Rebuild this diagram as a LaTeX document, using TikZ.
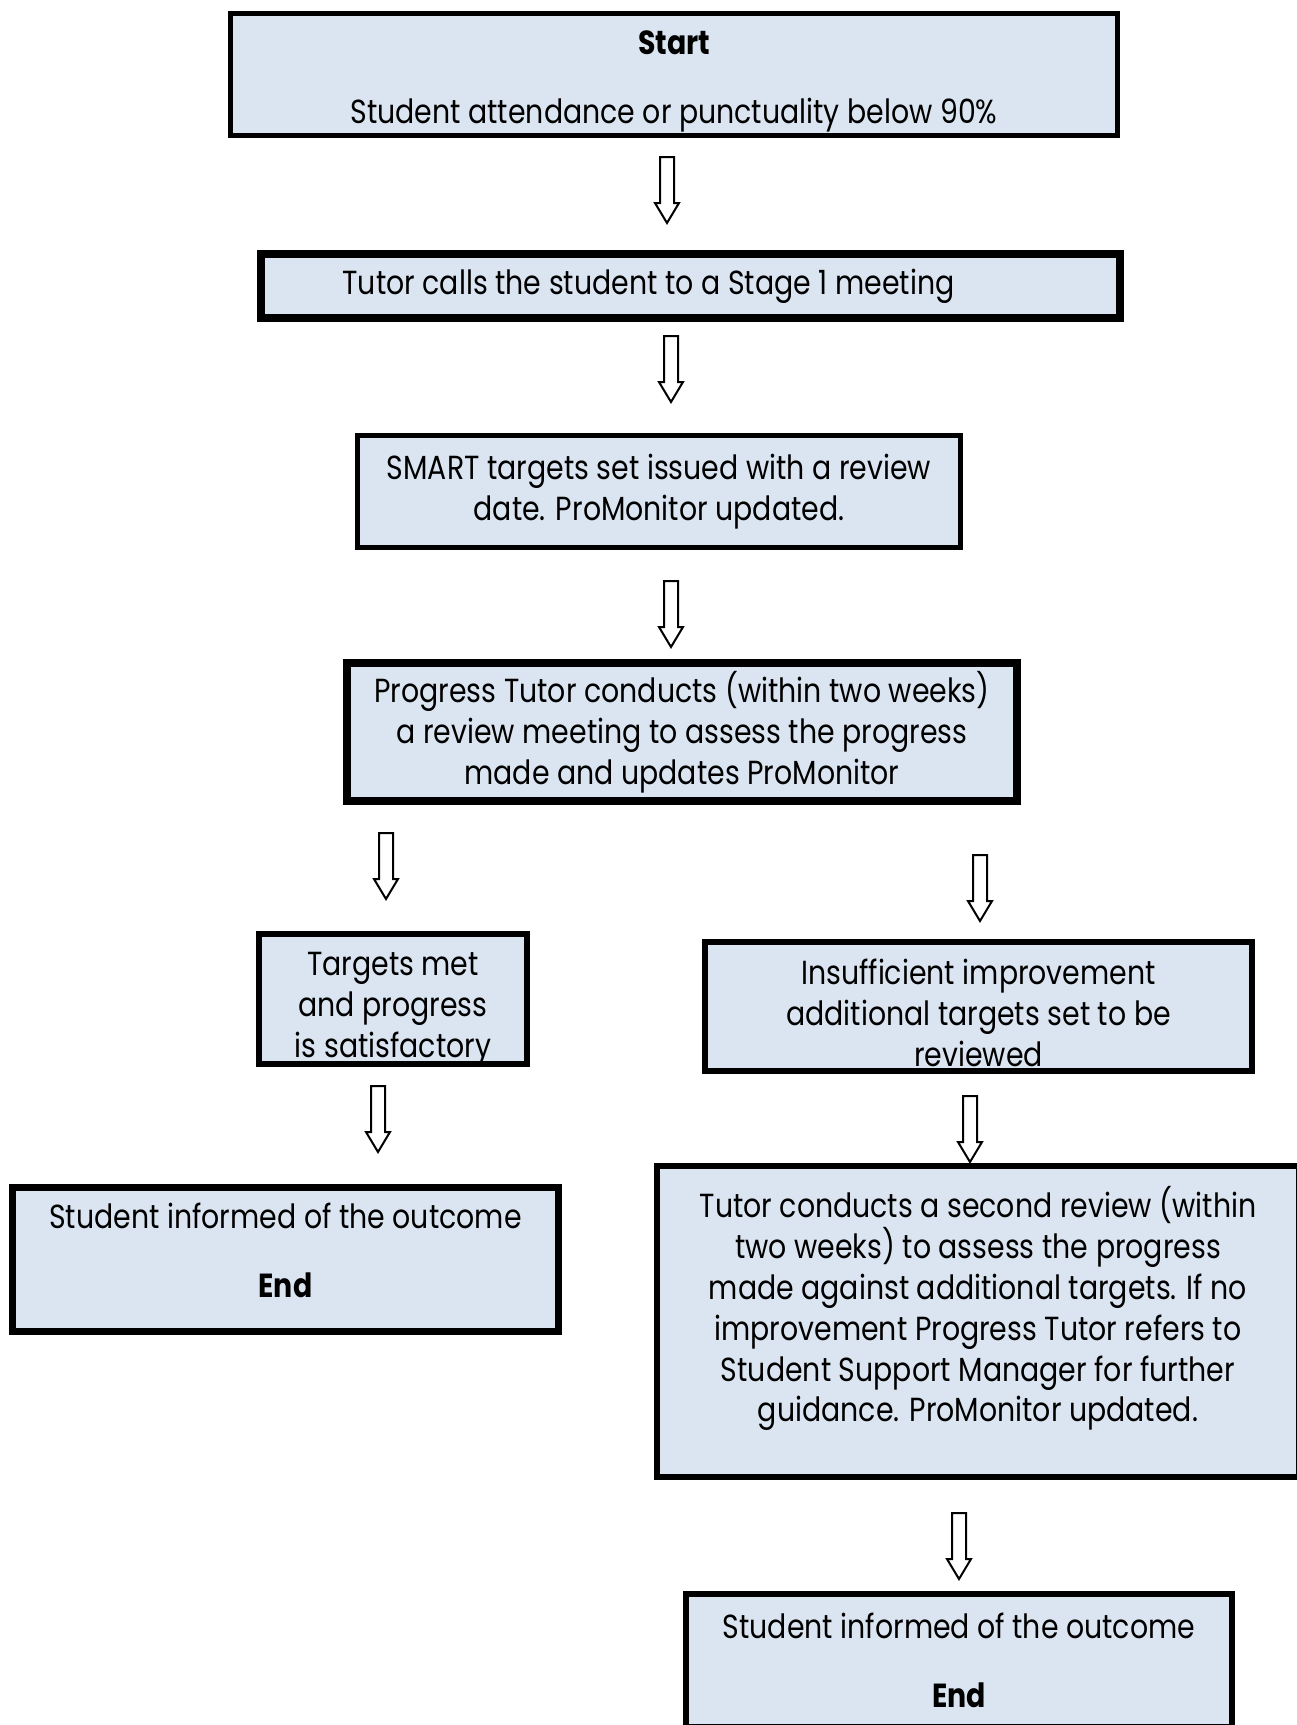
\documentclass[tikz,border=0pt]{standalone}
\usepackage{fontspec}
\setmainfont{Poppins}[FakeStretch=0.85]
\usetikzlibrary{calc}

\definecolor{boxfill}{HTML}{DBE5F1}

\tikzset{
  box/.style={draw=black, fill=boxfill, rectangle, inner sep=0pt},
  txt/.style={align=center, inner sep=0pt, font=\fontsize{19}{23.3}\selectfont},
  arrowline/.style={draw=black, line width=0.04cm, fill=white, line join=miter}
}

% hollow block arrow hanging down from a coordinate
\newcommand{\blockdown}[1]{%
  \draw[arrowline] ($(#1)+(-7,0)$) -- ($(#1)+(-7,46)$) -- ($(#1)+(-12,46)$)
    -- ($(#1)+(0,66)$) -- ($(#1)+(12,46)$) -- ($(#1)+(7,46)$) -- ($(#1)+(7,0)$) -- cycle;}

\begin{document}
\begin{tikzpicture}[x=0.02cm,y=-0.02cm]
\useasboundingbox (0,0) rectangle (1297,1725);

% boxes
\node[box, line width=0.1cm, minimum width=17.74cm, minimum height=2.44cm] (start) at (674,74.5) {};
\node[box, line width=0.16cm, minimum width=17.18cm, minimum height=1.28cm] (call) at (690.5,286) {};
\node[box, line width=0.1cm, minimum width=12.06cm, minimum height=2.24cm] (smart) at (659,491.5) {};
\node[box, line width=0.16cm, minimum width=13.4cm, minimum height=2.76cm] (review) at (682,732) {};
\node[box, line width=0.12cm, minimum width=5.36cm, minimum height=2.6cm] (met) at (393,999) {};
\node[box, line width=0.12cm, minimum width=10.94cm, minimum height=2.58cm] (insuff) at (978.5,1006.5) {};
\node[box, line width=0.14cm, minimum width=10.92cm, minimum height=2.88cm] (endl) at (285.5,1259.5) {};
\node[box, line width=0.12cm, minimum width=12.84cm, minimum height=6.22cm] (second) at (978,1321.5) {};
\node[box, line width=0.12cm, minimum width=10.92cm, minimum height=2.66cm] (endr) at (959,1660.5) {};

% texts
\node[txt] (start-t) at ($(start.center)+(0,7)$)
  {\textbf{Start}\\[0.55cm] Student attendance or punctuality below 90\%};
\node[txt] (call-t) at ($(call.center)+(-42,0)$)
  {Tutor calls the student to a Stage 1 meeting};
\node[txt] (smart-t) at (smart.center)
  {SMART targets set issued with a review\\ date. ProMonitor updated.};
\node[txt] (review-t) at (review.center)
  {Progress Tutor conducts (within two weeks)\\ a review meeting to assess the progress\\ made and updates ProMonitor};
\node[txt] (met-t) at ($(met.center)+(0,10)$)
  {Targets met\\ and progress\\ is satisfactory};
\node[txt] (insuff-t) at ($(insuff.center)+(0,6)$)
  {Insufficient improvement\\ additional targets set to be\\ reviewed};
\node[txt] (endl-t) at ($(endl.center)+(0,-9)$)
  {Student informed of the outcome\\[0.55cm] \textbf{End}};
\node[txt] (second-t) at ($(second.center)+(0,-13)$)
  {Tutor conducts a second review (within\\ two weeks) to assess the progress\\ made against additional targets. If no\\
   improvement Progress Tutor refers to\\ Student Support Manager for further\\ guidance. ProMonitor updated.};
\node[txt] (endr-t) at (endr.center)
  {Student informed of the outcome\\[0.55cm] \textbf{End}};

% arrows
\coordinate (a1) at (667,157);
\coordinate (a2) at (671,336);
\coordinate (a3) at (671,581);
\coordinate (a4) at (386,833);
\coordinate (a5) at (980,855);
\coordinate (a6) at (378,1086);
\coordinate (a7) at (970,1096);
\coordinate (a8) at (959,1513);

\foreach \a in {a1,a2,a3,a4,a5,a6,a7,a8}
  \blockdown{\a};
\end{tikzpicture}
\end{document}
